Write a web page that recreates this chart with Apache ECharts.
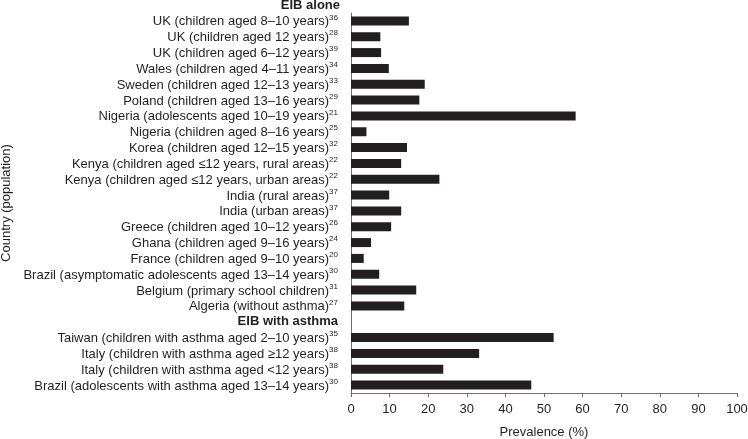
<!DOCTYPE html>
<html>
<head>
<meta charset="utf-8">
<script src="https://cdn.jsdelivr.net/npm/echarts@6/dist/echarts.min.js"></script>
<style>html,body{margin:0;padding:0;background:#fff}#c{width:748px;height:439px}</style>
</head>
<body>
<div id="c"></div>
<script>
const categories = [
  "UK (children aged 8–10 years)",
  "UK (children aged 12 years)",
  "UK (children aged 6–12 years)",
  "Wales (children aged 4–11 years)",
  "Sweden (children aged 12–13 years)",
  "Poland (children aged 13–16 years)",
  "Nigeria (adolescents aged 10–19 years)",
  "Nigeria (children aged 8–16 years)",
  "Korea (children aged 12–15 years)",
  "Kenya (children aged ≤12 years, rural areas)",
  "Kenya (children aged ≤12 years, urban areas)",
  "India (rural areas)",
  "India (urban areas)",
  "Greece (children aged 10–12 years)",
  "Ghana (children aged 9–16 years)",
  "France (children aged 9–10 years)",
  "Brazil (asymptomatic adolescents aged 13–14 years)",
  "Belgium (primary school children)",
  "Algeria (without asthma)",
  "EIB with asthma",
  "Taiwan (children with asthma aged 2–10 years)",
  "Italy (children with asthma aged ≥12 years)",
  "Italy (children with asthma aged <12 years)",
  "Brazil (adolescents with asthma aged 13–14 years)"
];
const refs = ["36","28","39","34","33","29","21","25","32","22","22","37","37","26","24","20","30","31","27","","35","38","38","30"];
const prevalence = [15.0, 7.6, 7.8, 9.8, 19.1, 17.7, 58.2, 4.0, 14.5, 13.0, 22.9, 9.9, 13.0, 10.4, 5.2, 3.3, 7.3, 16.9, 13.8, null, 52.5, 33.2, 23.9, 46.7];
const headerTop = "EIB alone";
const headerIndex = 19;
const xTicks = [0, 100, 10];

const chart = echarts.init(document.getElementById('c'), null, {renderer: 'canvas'});
const txt = '#231f20';
const ff = 'Liberation Sans, Arial, sans-serif';
chart.setOption({
  animation: false,
  backgroundColor: '#ffffff',
  textStyle: {fontFamily: ff},
  title: {
    text: headerTop,
    right: 408, top: -1, padding: 0,
    textStyle: {fontSize: 13, fontWeight: 'bold', color: txt, fontFamily: ff}
  },
  grid: {left: 351, right: 11, top: 13, bottom: 46, containLabel: false, outerBoundsMode: 'none'},
  xAxis: {
    type: 'value', min: xTicks[0], max: xTicks[1], interval: xTicks[2],
    name: 'Prevalence (%)', nameLocation: 'middle', nameGap: 33,
    nameTextStyle: {fontSize: 13, color: txt},
    axisLine: {show: true, lineStyle: {color: '#6d6e71', width: 1}},
    axisTick: {show: true, length: 4, lineStyle: {color: '#6d6e71'}},
    axisLabel: {fontSize: 13, color: txt, margin: 10},
    splitLine: {show: false}
  },
  yAxis: {
    type: 'category', data: categories, inverse: true,
    name: 'Country (population)', nameLocation: 'middle', nameRotate: 90, nameGap: 334,
    nameTextStyle: {fontSize: 13, color: txt},
    axisLine: {show: true, lineStyle: {color: '#6d6e71', width: 1}},
    axisTick: {show: false},
    axisLabel: {
      margin: 13, color: txt, fontSize: 13, interval: 0,
      formatter: function (v, i) {
        if (i === headerIndex) return '{b|' + v + '}';
        return '{t|' + v + '}{s|' + refs[i] + '}';
      },
      rich: {
        t: {fontSize: 13, color: txt, lineHeight: 15, verticalAlign: 'bottom'},
        s: {fontSize: 8, color: txt, lineHeight: 15, verticalAlign: 'top', padding: [0, 0, 5, 0]},
        b: {fontSize: 13, fontWeight: 'bold', color: txt}
      }
    }
  },
  series: [{
    type: 'bar', data: prevalence, barWidth: 9,
    itemStyle: {color: '#231f20'}
  }]
});
</script>
</body>
</html>
